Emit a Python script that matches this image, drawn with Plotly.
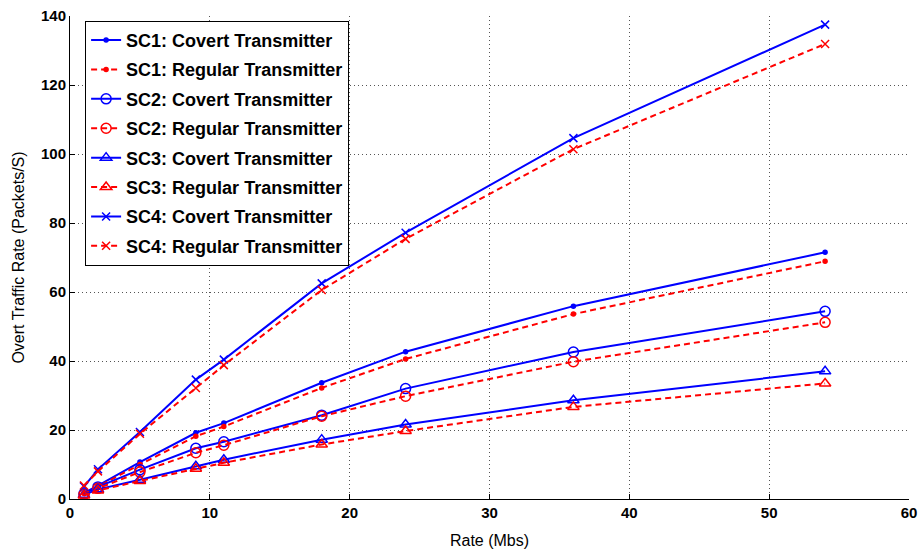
import plotly.graph_objects as go

# Channel data rates (Mbps)
rate = [1, 2, 5, 9, 11, 18, 24, 36, 54]

# Overt traffic rate (packets/s) for each scenario
sc1_covert  = [1.8, 3.9, 10.7, 19.2, 22.0, 33.7, 42.7, 55.9, 71.5]
sc1_regular = [1.6, 3.6, 10.0, 18.2, 21.0, 32.2, 40.6, 53.6, 68.9]
sc2_covert  = [1.5, 3.5, 8.5, 14.7, 16.6, 24.3, 32.0, 42.6, 54.4]
sc2_regular = [1.3, 3.1, 7.8, 13.4, 15.6, 24.0, 29.8, 39.8, 51.2]
sc3_covert  = [1.2, 2.8, 5.6, 9.5, 11.4, 17.2, 21.6, 28.6, 37.0]
sc3_regular = [1.0, 2.5, 5.2, 8.8, 10.5, 15.8, 19.7, 26.7, 33.5]
sc4_covert  = [3.6, 8.6, 19.4, 34.6, 40.4, 62.5, 77.2, 104.6, 137.5]
sc4_regular = [3.9, 8.0, 18.9, 32.2, 38.8, 60.6, 75.4, 101.4, 131.9]

x_ticks = [0, 10, 20, 30, 40, 50, 60]
y_ticks = [0, 20, 40, 60, 80, 100, 120, 140]

BLUE = "#0000FF"
RED = "#FF0000"
FONT = "Liberation Sans, Arial, sans-serif"

series = [
    ("SC1: Covert Transmitter", sc1_covert, BLUE, "solid", "circle", 4),
    ("SC1: Regular Transmitter", sc1_regular, RED, "6px,4px", "circle", 4),
    ("SC2: Covert Transmitter", sc2_covert, BLUE, "solid", "circle-open", 10),
    ("SC2: Regular Transmitter", sc2_regular, RED, "6px,4px", "circle-open", 10),
    ("SC3: Covert Transmitter", sc3_covert, BLUE, "solid", "triangle-up-open", 10),
    ("SC3: Regular Transmitter", sc3_regular, RED, "6px,4px", "triangle-up-open", 10),
    ("SC4: Covert Transmitter", sc4_covert, BLUE, "solid", "x-thin-open", 8),
    ("SC4: Regular Transmitter", sc4_regular, RED, "6px,4px", "x-thin-open", 8),
]

fig = go.Figure()
for i, (name, vals, color, dash, symbol, size) in enumerate(series):
    fig.add_trace(go.Scatter(
        x=rate, y=vals, name=name, mode="lines+markers",
        legendgroup=f"g{i}",
        line=dict(color=color, width=2, dash=dash),
        marker=dict(symbol=symbol, size=size, color=color,
                    line=dict(color=color, width=1.5)),
    ))

axis_common = dict(
    showline=True, linecolor="black", linewidth=1,
    ticks="inside", ticklen=5, tickcolor="black",
    showgrid=True, gridcolor="#555", griddash="1px,3px", gridwidth=1,
    zeroline=False, mirror=False, automargin=False,
    tickfont=dict(family=FONT, size=15, color="black"),
)

fig.update_xaxes(range=[0, 60], tickvals=x_ticks,
                 ticktext=[f"<b>{v}</b>" for v in x_ticks], **axis_common,
                 title=dict(text="Rate (Mbs)", standoff=14,
                            font=dict(family=FONT, size=16, color="black")))
fig.update_yaxes(range=[0, 140], tickvals=y_ticks,
                 ticktext=[f"<b>{v}</b>" for v in y_ticks], **axis_common,
                 title=dict(text="Overt Traffic Rate (Packets/S)", standoff=12,
                            font=dict(family=FONT, size=16, color="black")))

fig.update_layout(
    width=919, height=552,
    margin=dict(l=69.5, r=9.5, t=16, b=52.5),
    paper_bgcolor="white", plot_bgcolor="white",
    showlegend=True,
    legend=dict(
        x=0.018, y=0.99, xanchor="left", yanchor="top",
        bgcolor="white", bordercolor="black", borderwidth=1,
        font=dict(family=FONT, size=18, color="black", weight="bold"),
        tracegroupgap=3, traceorder="grouped",
    ),
)

fig.write_html("out.html")
